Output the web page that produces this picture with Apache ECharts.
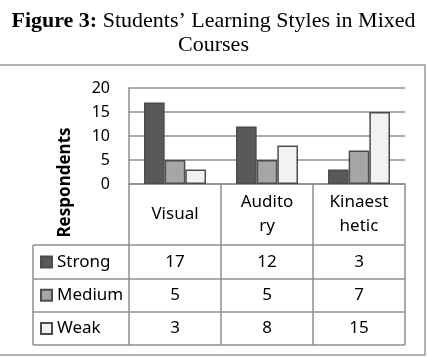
<!DOCTYPE html>
<html>
<head>
<meta charset="utf-8">
<script src="https://cdn.jsdelivr.net/npm/echarts@6/dist/echarts.min.js"></script>
<style>
  html, body { margin: 0; padding: 0; background: #fff; }
  #chart { width: 427px; height: 358px; }
</style>
</head>
<body>
<div id="chart"></div>
<script>
var categories = ['Visual', 'Auditory', 'Kinaesthetic'];
var catLabels = ['Visual', 'Audito\nry', 'Kinaest\nhetic'];
var seriesNames = ['Strong', 'Medium', 'Weak'];
var strong = [17, 12, 3];
var medium = [5, 5, 7];
var weak = [3, 8, 15];
var yTicks = [0, 5, 10, 15, 20];

var font = 'Noto Sans';
var lineCol = '#8f8f8f';
var tableRows = [strong, medium, weak];
var rowMargins = [78, 111.5, 144.5];

var myChart = echarts.init(document.getElementById('chart'));

var xAxes = [{
    type: 'category',
    data: categories,
    boundaryGap: true,
    axisLine: { show: true, lineStyle: { color: lineCol, width: 1.5 } },
    axisTick: { show: true, length: 161, interval: 0, lineStyle: { color: lineCol, width: 1.5 } },
    axisLabel: {
        interval: 0,
        margin: 30.5,
        verticalAlign: 'middle',
        fontFamily: font,
        fontSize: 17,
        lineHeight: 24,
        color: '#000',
        formatter: function (v, i) { return catLabels[i]; }
    }
}];
for (var r = 0; r < tableRows.length; r++) {
    (function (row, m) {
        xAxes.push({
            type: 'category',
            data: categories,
            position: 'bottom',
            axisLine: { show: false },
            axisTick: { show: false },
            splitLine: { show: false },
            axisLabel: {
                interval: 0,
                margin: m,
                verticalAlign: 'middle',
                fontFamily: font,
                fontSize: 17,
                color: '#000',
                formatter: function (v, i) { return String(row[i]); }
            }
        });
    })(tableRows[r], rowMargins[r]);
}

var hLines = [245, 279, 312, 345];
var graphics = [{
    type: 'rect',
    shape: { x: -2, y: 65, width: 427, height: 290 },
    style: { fill: null, stroke: '#9a9a9a', lineWidth: 1.5 }
}, {
    type: 'text',
    x: 65,
    y: 182.5,
    rotation: Math.PI / 2,
    style: {
        text: 'Respondents',
        font: 'bold 17px "Noto Sans"',
        fill: '#000',
        align: 'center',
        verticalAlign: 'middle'
    }
}, {
    type: 'line',
    shape: { x1: 33, y1: 245, x2: 33, y2: 345 },
    style: { stroke: lineCol, lineWidth: 1.5 }
}];
hLines.forEach(function (y) {
    graphics.push({
        type: 'line',
        shape: { x1: 33, y1: y, x2: 405, y2: y },
        style: { stroke: lineCol, lineWidth: 1.5 }
    });
});

var colors = ['#595959', '#a6a6a6', '#f2f2f2'];
var datas = [strong, medium, weak];
var series = [];
for (var s = 0; s < seriesNames.length; s++) {
    series.push({
        name: seriesNames[s],
        type: 'bar',
        barGap: '0%',
        barCategoryGap: '32.6%',
        itemStyle: { color: colors[s], borderColor: '#4d4d4d', borderWidth: 1.5 },
        data: datas[s]
    });
}

var option = {
    animation: false,
    title: {
        left: 'center',
        top: 9,
        padding: 0,
        text: '{b|Figure 3:} {n|Students\u2019 Learning Styles in Mixed}\n{n|Courses}',
        textStyle: {
            fontFamily: 'Liberation Serif',
            fontSize: 22,
            lineHeight: 24,
            color: '#000',
            rich: {
                b: { fontFamily: 'Liberation Serif', fontSize: 22, fontWeight: 'bold', lineHeight: 24, color: '#000' },
                n: { fontFamily: 'Liberation Serif', fontSize: 22, fontWeight: 'normal', lineHeight: 24, color: '#000' }
            }
        }
    },
    legend: {
        orient: 'vertical',
        left: 40,
        top: 252,
        padding: 0,
        itemWidth: 11,
        itemHeight: 11,
        itemGap: 13.3,
        selectedMode: false,
        icon: 'rect',
        data: seriesNames,
        textStyle: { fontFamily: font, fontSize: 17, lineHeight: 20, color: '#000' }
    },
    grid: { left: 129, right: 22, top: 88, bottom: 174, containLabel: false },
    xAxis: xAxes,
    yAxis: {
        type: 'value',
        min: yTicks[0],
        max: yTicks[yTicks.length - 1],
        interval: 5,
        axisLine: { show: true, lineStyle: { color: lineCol, width: 1.5 } },
        axisTick: { show: false },
        splitLine: { lineStyle: { color: lineCol, width: 1.5 } },
        axisLabel: { margin: 19, fontFamily: font, fontSize: 16, color: '#000' }
    },
    graphic: graphics,
    series: series
};

myChart.setOption(option);
</script>
</body>
</html>
